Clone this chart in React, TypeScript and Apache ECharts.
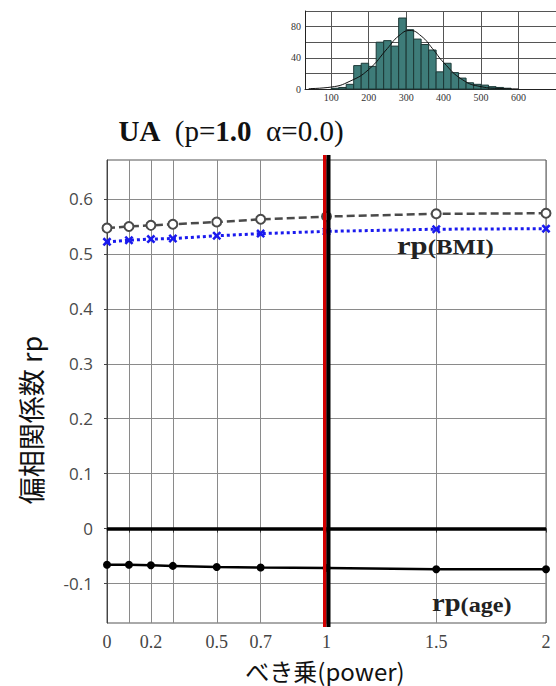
import React, { useEffect, useRef } from "react";
import * as echarts from "echarts";

// ---- main chart data ----
const powers = [0, 0.1, 0.2, 0.3, 0.5, 0.7, 1, 1.5, 2];
const rpTotal = [0.547, 0.55, 0.552, 0.554, 0.558, 0.563, 0.568, 0.573, 0.574];
const rpBMI = [0.522, 0.525, 0.527, 0.528, 0.533, 0.537, 0.541, 0.545, 0.546];
const rpAge = [-0.066, -0.066, -0.067, -0.068, -0.07, -0.071, -0.072, -0.074, -0.074];
const xTickValues = [0, 0.1, 0.2, 0.3, 0.5, 0.7, 1, 1.5, 2];
const xLabelValues = [0, 0.2, 0.5, 0.7, 1, 1.5, 2];
const yTickValues = [-0.1, 0, 0.1, 0.2, 0.3, 0.4, 0.5, 0.6];
const selectedPower = 1;
const Y_MIN = -0.172;
const Y_MAX = 0.671;

// ---- inset histogram data ----
const histBinStart = [100, 120, 140, 160, 180, 200, 220, 240, 260, 280, 300, 320, 340, 360, 380, 400, 420, 440, 460, 480, 500, 520, 540, 560];
const histCounts = [1, 2, 6, 30, 33, 29, 60, 62, 55, 91, 76, 64, 57, 50, 22, 33, 21, 14, 8, 6, 5, 3, 2, 1];
const histBinWidth = 20;
const curveX = [40, 100, 150, 200, 250, 280, 310, 340, 370, 400, 450, 500, 550, 600];
const curveY = [0.5, 2.5, 10, 25, 52, 68, 75, 68, 52, 34, 12, 3, 0.7, 0.1];
const histXTicks = [100, 200, 300, 400, 500, 600];
const histYLabels = [0, 40, 80];

const SERIF = "Liberation Serif";
const SANS = "Open Sans";
const CJK = "Noto Sans CJK JP";

const xSymbol =
  "path://M2,0 L5,3 L8,0 L10,2 L7,5 L10,8 L8,10 L5,7 L2,10 L0,8 L3,5 L0,2 Z";

export default function App() {
  const ref = useRef<HTMLDivElement>(null);

  useEffect(() => {
    if (!ref.current) return;
    const chart = echarts.init(ref.current, null, { renderer: "svg" });

    const option: any = {
      animation: false,
      backgroundColor: "#ffffff",
      grid: [
        {
          left: 107,
          top: 160,
          width: 439,
          height: 463,
          show: true,
          borderColor: "#555",
          borderWidth: 1,
        },
        {
          left: 305,
          top: 11,
          width: 272,
          height: 78,
          show: false,
        },
      ],
      xAxis: [
        {
          type: "value",
          gridIndex: 0,
          min: 0,
          max: 2,
          axisLine: { show: true, lineStyle: { color: "#333", width: 1.5 } },
          axisTick: {
            show: true,
            customValues: xTickValues,
            length: 4,
            lineStyle: { color: "#333" },
          },
          axisLabel: {
            customValues: xLabelValues,
            fontFamily: SERIF,
            fontSize: 18,
            color: "#444",
            margin: 10,
          },
          splitLine: { show: true, lineStyle: { color: "#8a8a8a", width: 1 } },
        },
        {
          type: "value",
          gridIndex: 1,
          min: 30,
          max: 700,
          axisLine: { show: true, lineStyle: { color: "#222", width: 1 } },
          axisTick: { show: false, customValues: histXTicks },
          axisLabel: {
            customValues: histXTicks,
            fontFamily: SERIF,
            fontSize: 10,
            color: "#333",
            margin: 3,
          },
          splitLine: { show: true, lineStyle: { color: "#555", width: 1 } },
        },
      ],
      yAxis: [
        {
          type: "value",
          gridIndex: 0,
          min: Y_MIN,
          max: Y_MAX,
          axisLine: { show: true, lineStyle: { color: "#444", width: 1 } },
          axisTick: {
            show: true,
            customValues: yTickValues,
            length: 3,
            lineStyle: { color: "#444" },
          },
          axisLabel: {
            customValues: yTickValues,
            fontFamily: SANS,
            fontSize: 17,
            color: "#4a4a4a",
            margin: 14,
          },
          splitLine: { show: true, lineStyle: { color: "#8a8a8a", width: 1 } },
        },
        {
          type: "value",
          gridIndex: 1,
          min: 0,
          max: 100,
          interval: 20,
          axisLine: { show: true, lineStyle: { color: "#222", width: 1 } },
          axisTick: { show: false },
          axisLabel: {
            customValues: histYLabels,
            fontFamily: SERIF,
            fontSize: 10,
            color: "#333",
            margin: 4,
          },
          splitLine: { show: true, lineStyle: { color: "#555", width: 1 } },
        },
      ],
      series: [
        {
          name: "rp total",
          type: "line",
          xAxisIndex: 0,
          yAxisIndex: 0,
          data: powers.map((p, i) => [p, rpTotal[i]]),
          symbol: "emptyCircle",
          symbolSize: 9,
          itemStyle: { color: "#4a4a4a", borderWidth: 1.5 },
          lineStyle: { color: "#4a4a4a", width: 2.5, type: [8, 4] },
          z: 3,
        },
        {
          name: "rp BMI",
          type: "line",
          xAxisIndex: 0,
          yAxisIndex: 0,
          data: powers.map((p, i) => [p, rpBMI[i]]),
          symbol: xSymbol,
          symbolSize: 9,
          itemStyle: { color: "#1a1aee" },
          lineStyle: { color: "#1a1aee", width: 3, type: [3, 3] },
          z: 3,
        },
        {
          name: "rp age",
          type: "line",
          xAxisIndex: 0,
          yAxisIndex: 0,
          data: powers.map((p, i) => [p, rpAge[i]]),
          symbol: "circle",
          symbolSize: 8,
          itemStyle: { color: "#000" },
          lineStyle: { color: "#000", width: 2.5 },
          z: 3,
          markLine: {
            silent: true,
            symbol: "none",
            label: { show: false },
            lineStyle: { color: "#000", width: 3.5, type: "solid" },
            data: [{ yAxis: 0 }],
          },
        },
        {
          name: "selected power",
          type: "custom",
          xAxisIndex: 0,
          yAxisIndex: 0,
          data: [[selectedPower]],
          clip: false,
          z: 10,
          renderItem: (params: any, api: any) => {
            const top = api.coord([api.value(0), Y_MAX]);
            const bot = api.coord([api.value(0), Y_MIN]);
            const h = bot[1] - top[1] + 9;
            return {
              type: "group",
              children: [
                {
                  type: "rect",
                  shape: { x: top[0] - 3.5, y: top[1] - 5, width: 3.5, height: h },
                  style: { fill: "#d40000" },
                },
                {
                  type: "rect",
                  shape: { x: top[0], y: top[1] - 5, width: 4, height: h },
                  style: { fill: "#000" },
                },
              ],
            };
          },
        },
        {
          name: "histogram",
          type: "custom",
          xAxisIndex: 1,
          yAxisIndex: 1,
          data: histBinStart.map((s, i) => [s, histCounts[i]]),
          renderItem: (params: any, api: any) => {
            const s = api.value(0);
            const c = api.value(1);
            const p0 = api.coord([s, c]);
            const p1 = api.coord([s + histBinWidth, 0]);
            return {
              type: "rect",
              shape: { x: p0[0], y: p0[1], width: p1[0] - p0[0], height: p1[1] - p0[1] },
              style: { fill: "#3e7c79", stroke: "#1c3836", lineWidth: 1 },
            };
          },
          z: 3,
        },
        {
          name: "normal fit",
          type: "line",
          xAxisIndex: 1,
          yAxisIndex: 1,
          data: curveX.map((x, i) => [x, curveY[i]]),
          smooth: true,
          symbol: "none",
          lineStyle: { color: "#111", width: 1 },
          z: 4,
        },
      ],
      graphic: [
        {
          type: "text",
          x: 231,
          y: 131,
          style: {
            text: "{b|UA}  (p={b|1.0}  α=0.0)",
            fontFamily: SERIF,
            fontSize: 29,
            fill: "#111",
            align: "center",
            verticalAlign: "middle",
            rich: {
              b: { fontFamily: SERIF, fontSize: 29, fontWeight: "bold", fill: "#111" },
            },
          },
        },
        {
          type: "text",
          x: 30,
          y: 420,
          rotation: Math.PI / 2,
          style: {
            text: "偏相関係数 rp",
            fontFamily: CJK,
            fontSize: 27,
            fill: "#111",
            align: "center",
            verticalAlign: "middle",
          },
        },
        {
          type: "text",
          x: 325,
          y: 670,
          style: {
            text: "べき乗(power)",
            fontFamily: CJK,
            fontSize: 24,
            lineHeight: 26,
            fill: "#111",
            align: "center",
            verticalAlign: "middle",
          },
        },
        {
          type: "text",
          x: 397,
          y: 245,
          scaleX: 1.18,
          style: {
            text: "{a|rp}{c|(BMI)}",
            align: "left",
            verticalAlign: "middle",
            rich: {
              a: { fontFamily: SERIF, fontSize: 26, fontWeight: "bold", fill: "#222", verticalAlign: "bottom" },
              c: { fontFamily: SERIF, fontSize: 21, fontWeight: "bold", fill: "#222", verticalAlign: "bottom" },
            },
          },
          z: 20,
        },
        {
          type: "text",
          x: 432,
          y: 602,
          scaleX: 1.1,
          style: {
            text: "{a|rp}{c|(age)}",
            align: "left",
            verticalAlign: "middle",
            rich: {
              a: { fontFamily: SERIF, fontSize: 26, fontWeight: "bold", fill: "#222", verticalAlign: "bottom" },
              c: { fontFamily: SERIF, fontSize: 22, fontWeight: "bold", fill: "#222", verticalAlign: "bottom" },
            },
          },
          z: 20,
        },
      ],
    };

    chart.setOption(option);
    return () => {
      chart.dispose();
    };
  }, []);

  return (
    <div
      ref={ref}
      style={{ position: "fixed", left: 0, top: 0, width: 556, height: 686, background: "#fff" }}
    />
  );
}
